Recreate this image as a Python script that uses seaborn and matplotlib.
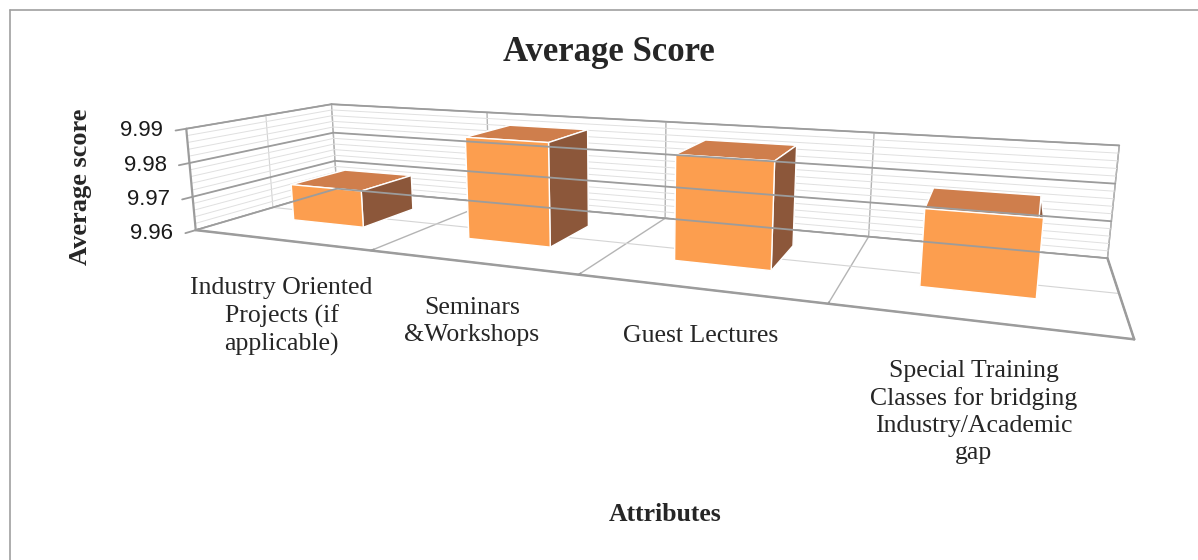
import numpy as np
import pandas as pd
import matplotlib
matplotlib.use("Agg")
import matplotlib.pyplot as plt
import seaborn as sns
from matplotlib.lines import Line2D

# Chart data
attributes = [
    "Industry Oriented\nProjects (if\napplicable)",
    "Seminars\n&Workshops",
    "Guest Lectures",
    "Special Training\nClasses for bridging\nIndustry/Academic\ngap",
]
avg_scores = [9.971, 9.989, 9.988, 9.979]
score_ticks = [9.96, 9.97, 9.98, 9.99]

sns.set_theme(style="white")
plt.rcParams["font.family"] = ["Liberation Serif", "DejaVu Serif"]

df = pd.DataFrame({"attribute": attributes, "score": avg_scores})
front_col = "#FC9E4F"
top_col = "#CF7E4C"
side_col = "#8C573A"
wall_col = "#9c9c9c"

fig = plt.figure(figsize=(11.98, 5.6), dpi=100)
ax = fig.add_axes([0.1192, 0.3515, 0.8, 0.6], projection="3d")
# camera fitted to the Excel-style perspective of the original
ax.set_proj_type("persp", focal_length=0.5345)
ax.view_init(elev=11.77, azim=-68.43)
ax.set_box_aspect((4.0, 1.0518, 0.4871), zoom=2.6939)

n = len(df)
xpos = np.arange(n)
zmin, zmax = score_ticks[0], score_ticks[-1]
xlo, xhi = -0.5, n - 0.5
ylo, yhi = -0.5, 0.5
bw, bd, yfront = 0.416, 0.40, -0.176

# per-face colours: -z, +z, -y, +y, -x, +x
faces = [side_col, top_col, front_col, side_col, side_col, side_col] * n
bars = ax.bar3d(xpos - bw / 2, np.full(n, yfront), np.full(n, zmin), bw, bd,
                df["score"].to_numpy() - zmin, color=faces, shade=False)
bars.set_clip_on(False)

ax.set_xlim(xlo, xhi)
ax.set_ylim(ylo, yhi)
ax.set_zlim(zmin, zmax)

# category boundaries on floor / back wall, fine score lines on the walls
ax.set_xticks(np.arange(xlo, n, 1.0))
ax.set_yticks([0.0])
ax.set_zticks(np.round(np.arange(zmin, zmax + 1e-9, 0.002), 3))
ax.set_xticklabels([])
ax.set_yticklabels([])
ax.set_zticklabels([])
for axis in (ax.xaxis, ax.yaxis, ax.zaxis):
    axis.set_pane_color((1, 1, 1, 1))
    axis.pane.set_edgecolor(wall_col)
    axis.line.set_color(wall_col)
    axis.line.set_linewidth(1.8)
    axis.label.set_visible(False)
    axis.offsetText.set_visible(False)
    axis._axinfo["grid"].update(color="#e0e0e0", linewidth=0.7)
    axis._axinfo["tick"].update(inward_factor=0.0, outward_factor=0.0)
ax.xaxis._axinfo["grid"].update(color="#b4b4b4", linewidth=1.0)
ax.yaxis._axinfo["grid"].update(color="#d4d4d4", linewidth=0.8)
ax.xaxis._axinfo["tick"].update(outward_factor=0.25)
ax.xaxis.set_tick_params(color=wall_col, width=1.2)
ax.zaxis.line.set_color((1, 1, 1, 0))

# major score gridlines on the left and back walls, plus the value axis
for v in score_ticks:
    ax.plot([xlo, xlo], [ylo, yhi], [v, v], color=wall_col, lw=1.3, clip_on=False)
    ax.plot([xlo, xhi], [yhi, yhi], [v, v], color=wall_col, lw=1.3, clip_on=False)
    ax.plot([xlo, xlo], [ylo - 0.06, ylo], [v, v], color=wall_col, lw=1.3, clip_on=False)
    ax.text(xlo, ylo - 0.06, v, f"{v:.2f}  ", ha="right", va="center",
            fontfamily="Liberation Sans", fontsize=16, color="#1a1a1a")
ax.plot([xlo, xlo], [ylo, ylo], [zmin, zmax], color=wall_col, lw=1.6, clip_on=False)

# category labels
label_pos = [(0.235, 0.505), (0.394, 0.469), (0.585, 0.420), (0.813, 0.358)]
for text, (lx, ly) in zip(df["attribute"], label_pos):
    fig.text(lx, ly, text, ha="center", va="top", fontsize=18.5, linespacing=1.3)

fig.text(0.508, 0.907, "Average Score", ha="center", va="center", fontsize=25, fontweight="bold")
fig.text(0.067, 0.666, "Average score", ha="center", va="center", rotation=90, fontsize=19, fontweight="bold")
fig.text(0.555, 0.082, "Attributes", ha="center", va="center", fontsize=18.5, fontweight="bold")

fig.add_artist(Line2D([10 / 1198, 10 / 1198], [0, 1 - 10 / 560], transform=fig.transFigure, color="#a0a0a0", lw=1.2))
fig.add_artist(Line2D([10 / 1198, 1], [1 - 10 / 560, 1 - 10 / 560], transform=fig.transFigure, color="#a0a0a0", lw=1.2))

fig.savefig("out.png", dpi=100)
